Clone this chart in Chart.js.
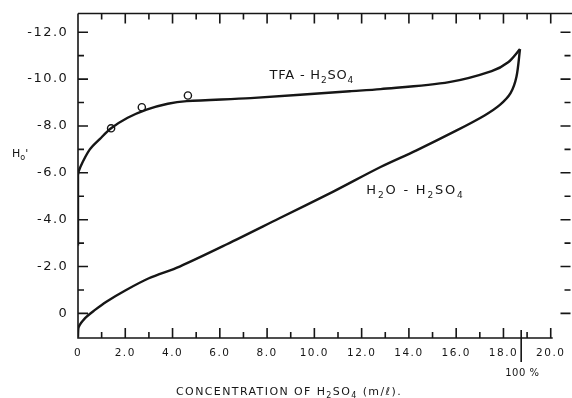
<!DOCTYPE html>
<html>
<head>
<meta charset="utf-8">
<script src="https://cdn.jsdelivr.net/npm/chart.js@4/dist/chart.umd.min.js"></script>
<style>
  html, body { margin: 0; padding: 0; background: #fff; overflow: hidden; }
  canvas { display: block; }
</style>
</head>
<body>
<canvas id="myChart" width="572" height="398"></canvas>
<script>
// axis ticks
const xTicks = [0, 2, 4, 6, 8, 10, 12, 14, 16, 18, 20];
const xMinor = [1, 3, 5, 7, 9, 11, 13, 15, 17, 19];
const yTicks = [-12, -10, -8, -6, -4, -2, 0];
const yMinor = [-11, -9, -7, -5, -3, -1];
const pctMark = 18.75; // 100 % H2SO4

// TFA - H2SO4 curve
const tfaX = [0, 0, 0.1, 0.5, 0.93, 1.4, 2.1, 2.9, 3.8, 4.6, 7.3, 11.5, 12.8, 15.7, 17.5, 18.2, 18.7];
const tfaY = [-2.9, -5.9, -6.25, -7.0, -7.45, -7.9, -8.35, -8.7, -8.95, -9.06, -9.19, -9.48, -9.57, -9.87, -10.34, -10.72, -11.28];

// H2O - H2SO4 curve
const waterX = [0, 0.02, 0.3, 0.72, 1.2, 2.0, 3.0, 4.3, 6.3, 8.5, 10.8, 12.8, 14.3, 16.0, 17.2, 17.85, 18.3, 18.55, 18.7];
const waterY = [1.0, 0.6, 0.2, -0.15, -0.5, -0.98, -1.5, -2.0, -2.95, -4.05, -5.2, -6.25, -6.95, -7.8, -8.45, -8.9, -9.4, -10.1, -11.28];

// measured points (open circles)
const obsX = [1.4, 2.7, 4.65];
const obsY = [-7.9, -8.8, -9.3];

const ink = "#161616";
const ctx = document.getElementById("myChart").getContext("2d");

const toPts = (xs, ys) => xs.map((v, i) => ({ x: v, y: ys[i] }));

// text with subscripts: parts = [[text, isSub], ...]
function drawRich(c, parts, x, y, size, spacing) {
  let cx = x;
  c.letterSpacing = spacing + "px";
  parts.forEach(([txt, sub]) => {
    const fs = sub ? Math.round(size * 0.72) : size;
    c.font = fs + 'px "DejaVu Sans"';
    c.fillText(txt, cx, sub ? y + size * 0.28 : y);
    cx += c.measureText(txt).width;
  });
  c.letterSpacing = "0px";
}

// frame, inward ticks and annotations
const frame = {
  id: "frame",
  beforeDraw(chart) {
    // wide spacing for the y tick labels (y scale is drawn before datasets)
    chart.ctx.letterSpacing = "1.5px";
  },
  beforeDatasetsDraw(chart) {
    const { ctx: c, chartArea: a, scales } = chart;
    const x = scales.x, y = scales.y;
    c.letterSpacing = "0px";
    c.save();
    c.strokeStyle = ink;
    c.lineWidth = 1.6;
    c.beginPath();
    c.moveTo(a.left, a.top);
    c.lineTo(a.right, a.top);
    c.moveTo(a.left, a.top);
    c.lineTo(a.left, a.bottom);
    c.lineTo(x.getPixelForValue(xTicks[xTicks.length - 1]) + 2, a.bottom);
    const tick = (len, list, horiz) => {
      list.forEach(v => {
        if (horiz) {
          const px = x.getPixelForValue(v);
          c.moveTo(px, a.bottom); c.lineTo(px, a.bottom - len);
          c.moveTo(px, a.top); c.lineTo(px, a.top + len);
        } else {
          const py = y.getPixelForValue(v);
          c.moveTo(a.left, py); c.lineTo(a.left + len, py);
        }
      });
    };
    tick(10, xTicks, true);
    tick(6, xMinor, true);
    tick(10, yTicks, false);
    tick(6, yMinor, false);
    // 100 % marker
    const pm = x.getPixelForValue(pctMark);
    c.moveTo(pm, a.bottom - 8);
    c.lineTo(pm, a.bottom + 24);
    c.stroke();

    c.fillStyle = ink;
    c.textAlign = "left";
    c.textBaseline = "alphabetic";
    drawRich(c, [["100 %", false]], pm - 16, 376, 10, 0.5);
    drawRich(c, [["CONCENTRATION OF H", false], ["2", true], ["SO", false], ["4", true], [" (m/ℓ).", false]], 176, 395, 11, 1.4);
    drawRich(c, [["H", false], ["o", true], ["'", false]], 12, 157, 11, 0);
    drawRich(c, [["TFA - H", false], ["2", true], ["SO", false], ["4", true]],
      x.getPixelForValue(8.1), y.getPixelForValue(-10.0), 13, 0.8);
    drawRich(c, [["H", false], ["2", true], ["O - H", false], ["2", true], ["SO", false], ["4", true]],
      x.getPixelForValue(12.2), y.getPixelForValue(-5.1), 13, 1.8);
    c.restore();
  },
  afterDraw(chart) {
    // inward ticks on the right edge
    const { ctx: c, chartArea: a, scales } = chart;
    const y = scales.y;
    const rx = a.right - 1.5;
    c.save();
    c.letterSpacing = "0px";
    c.strokeStyle = ink;
    c.lineWidth = 1.6;
    c.beginPath();
    yTicks.forEach(v => {
      const py = y.getPixelForValue(v);
      c.moveTo(rx, py); c.lineTo(rx - 10, py);
    });
    yMinor.forEach(v => {
      const py = y.getPixelForValue(v);
      c.moveTo(rx, py); c.lineTo(rx - 6, py);
    });
    c.stroke();
    c.restore();
  },
};

const myChart = new Chart(ctx, {
  type: "scatter",
  data: {
    datasets: [
      {
        label: "TFA - H2SO4",
        data: toPts(tfaX, tfaY),
        showLine: true,
        borderColor: ink,
        borderWidth: 2.4,
        tension: 0.3,
        pointRadius: 0,
      },
      {
        label: "H2O - H2SO4",
        data: toPts(waterX, waterY),
        showLine: true,
        borderColor: ink,
        borderWidth: 2.4,
        tension: 0.3,
        pointRadius: 0,
      },
      {
        label: "measured",
        data: toPts(obsX, obsY),
        showLine: false,
        pointRadius: 3.6,
        pointBorderWidth: 1.4,
        pointBorderColor: ink,
        pointBackgroundColor: "#fff",
      },
    ],
  },
  options: {
    responsive: false,
    animation: false,
    devicePixelRatio: 1,
    layout: { autoPadding: false, padding: { top: 13.5, right: 0, left: 0, bottom: 0 } },
    plugins: {
      legend: { display: false },
      tooltip: { enabled: false },
    },
    scales: {
      x: {
        type: "linear",
        min: 0,
        max: 20.9,
        z: 1,
        afterBuildTicks: s => { s.ticks = xTicks.map(v => ({ value: v })); },
        afterFit: s => { s.height = 60; },
        grid: { display: false, drawTicks: false },
        border: { display: false },
        ticks: {
          padding: 9,
          color: ink,
          font: { family: "DejaVu Sans", size: 10.5 },
          maxRotation: 0,
          callback: v => (v === 0 ? "0" : v.toFixed(1)),
        },
      },
      y: {
        type: "linear",
        reverse: true,
        min: -12.8,
        max: 1.05,
        z: 0,
        afterBuildTicks: s => { s.ticks = yTicks.map(v => ({ value: v })); },
        afterFit: s => { s.width = 78; },
        grid: { display: false, drawTicks: false },
        border: { display: false },
        ticks: {
          // small padding keeps the chart top at 13.5; trailing space pushes labels left
          padding: 4,
          color: ink,
          font: { family: "DejaVu Sans", size: 13 },
          callback: v => (v === 0 ? "0" : v.toFixed(1)) + " ",
        },
      },
    },
  },
  plugins: [frame],
});
</script>
</body>
</html>
